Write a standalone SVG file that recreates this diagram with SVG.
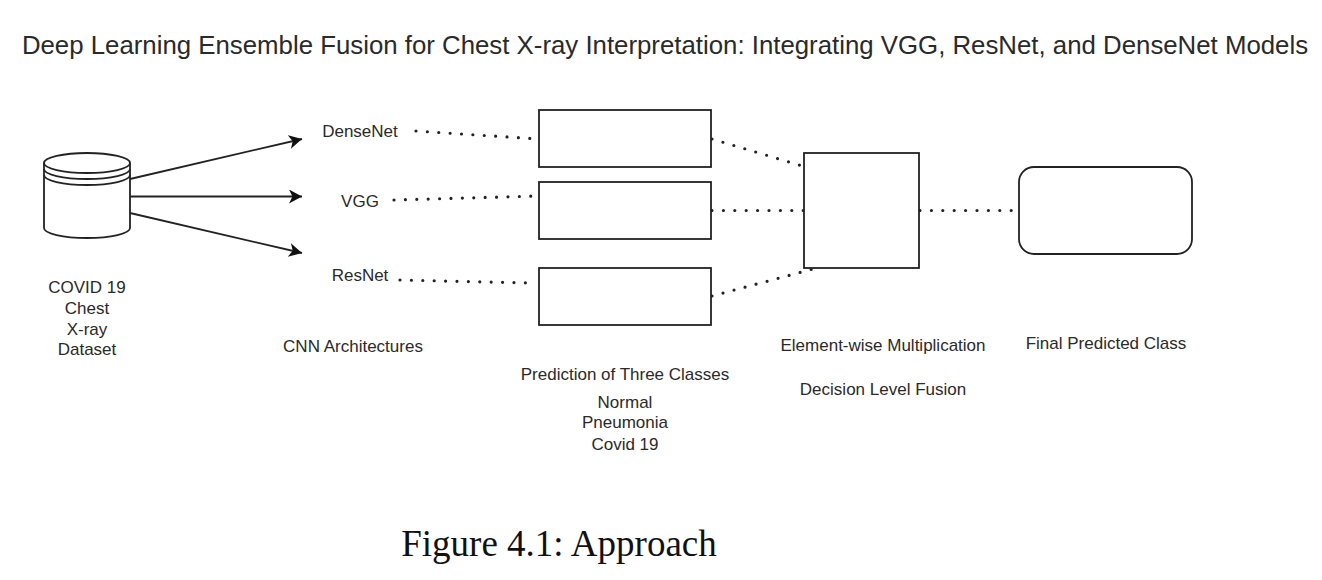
<svg xmlns="http://www.w3.org/2000/svg" width="1322" height="580" viewBox="0 0 1322 580">
<defs>
<marker id="arrow" markerUnits="userSpaceOnUse" markerWidth="16" markerHeight="16" refX="13" refY="7" orient="auto"><path d="M0 0L13 7L0 14L3.500 7Z" fill="#111"/></marker>
</defs>
<style>
text{font-family:"Liberation Sans",Arial,sans-serif;fill:#2a2a2a;font-size:17px;text-anchor:middle}
.box{fill:#fff;stroke:#222;stroke-width:1.8}
.dot{fill:none;stroke:#222;stroke-width:3.2;stroke-linecap:round;stroke-dasharray:0 11.4}
.arr{fill:none;stroke:#222;stroke-width:1.8;marker-end:url(#arrow)}
</style>
<rect width="1322" height="580" fill="#fff"/>
<text id="title" x="665" y="54" style="font-size:25.8px">Deep Learning Ensemble Fusion for Chest X-ray Interpretation: Integrating VGG, ResNet, and DenseNet Models</text>
<g id="connectors">
<path class="arr" d="M130 179L302 139"/>
<path class="arr" d="M130 196.500L302 196.500"/>
<path class="arr" d="M130 213L302 253"/>
<path class="dot" d="M416 131L538 139"/>
<path class="dot" d="M394 200L538 196"/>
<path class="dot" d="M400 280L533 283"/>
<path class="dot" d="M712 139L806 167"/>
<path class="dot" d="M712 210.500L806 210.500"/>
<path class="dot" d="M712 296L813 269"/>
<path class="dot" d="M920 210.500L1018 210.500"/>
</g>
<g id="dataset">
<path class="box" d="M44 163V228C44 233.500 63 238 87 238S130 233.500 130 228V163"/>
<ellipse class="box" cx="87" cy="163" rx="43" ry="10"/>
<path class="box" style="fill:none" d="M44 169C44 174.500 63 179 87 179S130 174.500 130 169M44 175C44 180.500 63 185 87 185S130 180.500 130 175"/>
<text x="87" y="293">COVID 19</text><text x="87" y="314">Chest</text><text x="87" y="335">X-ray</text><text x="87" y="355">Dataset</text>
</g>
<g id="densenet"><text x="360" y="137">DenseNet</text></g>
<g id="vgg"><text x="360" y="207">VGG</text></g>
<g id="resnet"><text x="360" y="281">ResNet</text></g>
<g id="cnn-label"><text x="353" y="352">CNN Architectures</text></g>
<g id="box-dense"><rect class="box" x="539" y="110" width="172" height="57"/></g>
<g id="box-vgg"><rect class="box" x="539" y="182" width="172" height="57"/></g>
<g id="box-res"><rect class="box" x="539" y="268" width="172" height="57"/></g>
<g id="prediction-label"><text x="625" y="380">Prediction of Three Classes</text><text x="625" y="408">Normal</text><text x="625" y="428">Pneumonia</text><text x="625" y="450">Covid 19</text></g>
<g id="fusion"><rect class="box" x="804" y="153" width="115" height="115"/>
<text x="883" y="351">Element-wise Multiplication</text><text x="883" y="395">Decision Level Fusion</text></g>
<g id="final"><rect class="box" x="1019" y="167" width="173" height="87" rx="15" ry="15"/>
<text x="1106" y="349">Final Predicted Class</text></g>
<text id="caption" x="559" y="556" style="font-family:'Liberation Serif',serif;font-size:37px;fill:#111">Figure 4.1: Approach</text>
</svg>
